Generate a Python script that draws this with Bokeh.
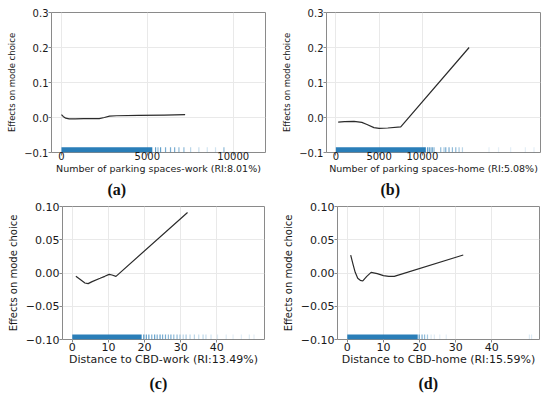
from bokeh.plotting import figure
from bokeh.models import Range1d, FixedTicker, CustomJSTickFormatter, Title, ColumnDataSource
from bokeh.layouts import column, row
from bokeh.embed import file_html
from bokeh.resources import INLINE

# ---------------- data ----------------
# (a) Number of parking spaces-work
a_x = [0, 100, 250, 450, 800, 1300, 1800, 2200, 2500, 2800, 3200, 4500, 6000, 7200]
a_y = [0.008, 0.003, -0.002, -0.004, -0.004, -0.003, -0.003, -0.003, 0.000, 0.004, 0.005, 0.006, 0.007, 0.008]
a_rug_band = [0, 5290]
a_rug_x = [5480, 5620, 5770, 6060, 6350, 6590, 6840, 7130, 7520, 8000, 8490, 8970, 9460]
a_rug_alpha = [0.7, 0.5, 0.7, 0.6, 0.6, 0.6, 0.5, 0.5, 0.3, 0.25, 0.2, 0.2, 0.5]
a_xticks = [0, 5000, 10000]
a_xlabels = ["0", "5000", "10000"]
a_yticks = [-0.1, 0.0, 0.1, 0.2, 0.3]
a_ylabels = ["\u22120.1", "0.0", "0.1", "0.2", "0.3"]
a_xrange = [-580, 11880]
a_yrange = [-0.1, 0.3]
a_xtitle = "Number of parking spaces-work (RI:8.01%)"
a_caption = "(a)"

# (b) Number of parking spaces-home
b_x = [270, 1000, 2100, 3000, 3600, 4400, 5000, 6000, 7500, 15400]
b_y = [-0.013, -0.012, -0.011, -0.014, -0.020, -0.029, -0.031, -0.030, -0.027, 0.200]
b_rug_band = [0, 10400]
b_rug_x = [10600, 10800, 11000, 11170, 11350, 12120, 12500, 12700, 13080, 13470, 13860, 14240, 14630,
           17700, 18800, 20200, 21900, 22900]
b_rug_alpha = [0.7, 0.7, 0.6, 0.6, 0.5, 0.5, 0.4, 0.6, 0.6, 0.5, 0.5, 0.4, 0.3,
               0.12, 0.12, 0.12, 0.12, 0.12]
b_xticks = [0, 5000, 10000]
b_xlabels = ["0", "5000", "10000"]
b_yticks = [-0.1, 0.0, 0.1, 0.2, 0.3]
b_ylabels = ["\u22120.1", "0.0", "0.1", "0.2", "0.3"]
b_xrange = [-1080, 23650]
b_yrange = [-0.1, 0.3]
b_xtitle = "Number of parking spaces-home (RI:5.08%)"
b_caption = "(b)"

# (c) Distance to CBD-work
c_x = [1.0, 2.5, 3.5, 4.4, 5.5, 7.7, 9.0, 10.2, 11.0, 12.1, 31.9]
c_y = [-0.005, -0.011, -0.015, -0.016, -0.013, -0.008, -0.005, -0.002, -0.003, -0.005, 0.091]
c_rug_band = [0, 19.2]
c_rug_x = [19.8, 20.5, 21.2, 22.0, 22.8, 23.5, 24.3, 25.0, 25.8, 26.6, 27.3, 28.1, 29.0, 29.8,
           30.7, 31.5, 32.6, 33.8, 35.0, 36.2, 37.0, 38.4, 40.2, 42.6, 44.5, 46.8, 49.0, 50.3]
c_rug_alpha = [0.8, 0.7, 0.7, 0.6, 0.7, 0.6, 0.7, 0.6, 0.6, 0.5, 0.6, 0.5, 0.5, 0.4,
               0.3, 0.4, 0.3, 0.3, 0.25, 0.3, 0.25, 0.2, 0.15, 0.15, 0.12, 0.12, 0.15, 0.12]
c_xticks = [0, 10, 20, 30, 40]
c_xlabels = ["0", "10", "20", "30", "40"]
c_yticks = [-0.10, -0.05, 0.00, 0.05, 0.10]
c_ylabels = ["\u22120.10", "\u22120.05", "0.00", "0.05", "0.10"]
c_xrange = [-2.7, 53.2]
c_yrange = [-0.1, 0.1]
c_xtitle = "Distance to CBD-work (RI:13.49%)"
c_caption = "(c)"

# (d) Distance to CBD-home
d_x = [0.95, 1.6, 2.2, 2.9, 3.6, 4.3, 5.4, 6.6, 8.3, 10.0, 11.5, 13.0, 32.1]
d_y = [0.027, 0.013, 0.001, -0.008, -0.011, -0.012, -0.005, 0.001, -0.001, -0.004, -0.005, -0.005, 0.027]
d_rug_band = [0, 19.5]
d_rug_x = [19.9, 20.7, 21.4, 22.2, 23.2, 24.1, 25.6, 27.4, 50.4, 51.0]
d_rug_alpha = [0.7, 0.6, 0.5, 0.4, 0.15, 0.15, 0.12, 0.12, 0.15, 0.15]
d_xticks = [0, 10, 20, 30, 40]
d_xlabels = ["0", "10", "20", "30", "40"]
d_yticks = [-0.10, -0.05, 0.00, 0.05, 0.10]
d_ylabels = ["\u22120.10", "\u22120.05", "0.00", "0.05", "0.10"]
d_xrange = [-2.7, 53.2]
d_yrange = [-0.1, 0.1]
d_xtitle = "Distance to CBD-home (RI:15.59%)"
d_caption = "(d)"

Y_TITLE = "Effects on mode choice"

RUG = "#1f77b4"
LINE = "#2b2b2b"
FRAME = "#8a8a8a"
GRID = "#e9e9e9"
FONT = "DejaVu Sans"


def fmt(vals, labels):
    return CustomJSTickFormatter(
        args=dict(vals=vals, labels=labels),
        code="""
        let best = 0, bd = Infinity;
        for (let i = 0; i < vals.length; i++) {
            const d = Math.abs(vals[i] - tick);
            if (d < bd) { bd = d; best = i; }
        }
        return labels[best];
        """)


def panel(xs, ys, band, rug_x, rug_alpha, xticks, xlabels, yticks, ylabels,
          xr, yr, xtitle, caption, geo, sizes, offs):
    w, h, bl, br, bt, bb = geo
    tick_fs, xlab_fs, ylab_fs, cap_fs, cap_off = sizes
    x_lab_so, y_lab_so, x_title_so, cap_so = offs
    p = figure(width=w, height=h, output_backend="svg", toolbar_location=None,
               x_range=Range1d(*xr), y_range=Range1d(*yr),
               min_border_left=bl, min_border_right=br,
               min_border_top=bt, min_border_bottom=bb)
    p.background_fill_color = "white"
    p.border_fill_color = "white"
    p.outline_line_color = FRAME
    p.outline_line_width = 1

    rug_h = (yr[1] - yr[0]) * 0.038
    p.quad(left=[band[0]], right=[band[1]], bottom=[yr[0]], top=[yr[0] + rug_h],
           fill_color=RUG, fill_alpha=0.95, line_color=None)
    src = ColumnDataSource(dict(x=rug_x, a=rug_alpha))
    p.segment(x0="x", y0=yr[0], x1="x", y1=yr[0] + rug_h, source=src,
              line_color=RUG, line_alpha="a", line_width=1.2)
    p.line(xs, ys, line_color=LINE, line_width=1.2)

    for ax, ticks, labels in ((p.xaxis, xticks, xlabels), (p.yaxis, yticks, ylabels)):
        ax.ticker = FixedTicker(ticks=ticks)
        ax.formatter = fmt(ticks, labels)
        ax.axis_line_color = None
        ax.major_tick_line_color = FRAME
        ax.major_tick_out = 3
        ax.major_tick_in = 0
        ax.minor_tick_line_color = None
        ax.major_label_text_font = FONT
        ax.major_label_text_font_size = tick_fs
        ax.major_label_text_color = "#1a1a1a"
        ax.axis_label_text_font = FONT
        ax.axis_label_text_font_style = "normal"
        ax.axis_label_text_color = "#1a1a1a"
    p.xaxis.major_label_standoff = x_lab_so
    p.yaxis.major_label_standoff = 0
    p.xaxis.axis_label = xtitle
    p.yaxis.axis_label = Y_TITLE
    p.xaxis.axis_label_text_font_size = xlab_fs
    p.yaxis.axis_label_text_font_size = ylab_fs
    p.xaxis.axis_label_standoff = x_title_so
    p.yaxis.axis_label_standoff = y_lab_so
    p.grid.grid_line_color = GRID
    p.grid.grid_line_width = 1

    t = Title(text=caption, align="left", offset=cap_off, standoff=cap_so,
              text_font="Liberation Serif", text_font_style="bold",
              text_font_size=cap_fs, text_color="#111111")
    p.add_layout(t, "below")
    return p


fa = panel(a_x, a_y, a_rug_band, a_rug_x, a_rug_alpha, a_xticks, a_xlabels, a_yticks, a_ylabels,
           a_xrange, a_yrange, a_xtitle, a_caption,
           (275, 200, 51, 10, 12, 48), ("10px", "9.5px", "8.5px", "16px", 56), (-4, 4, 0, 4))
fb = panel(b_x, b_y, b_rug_band, b_rug_x, b_rug_alpha, b_xticks, b_xlabels, b_yticks, b_ylabels,
           b_xrange, b_yrange, b_xtitle, b_caption,
           (275, 200, 51, 10, 12, 48), ("10px", "9.5px", "8.5px", "16px", 54), (-4, 4, 0, 4))
fc = panel(c_x, c_y, c_rug_band, c_rug_x, c_rug_alpha, c_xticks, c_xlabels, c_yticks, c_ylabels,
           c_xrange, c_yrange, c_xtitle, c_caption,
           (275, 195, 62, 11, 6, 53), ("11px", "11px", "10px", "16px", 87), (0, 4, -1, 8))
fd = panel(d_x, d_y, d_rug_band, d_rug_x, d_rug_alpha, d_xticks, d_xlabels, d_yticks, d_ylabels,
           d_xrange, d_yrange, d_xtitle, d_caption,
           (275, 195, 62, 11, 6, 53), ("11px", "11px", "10px", "16px", 81), (0, 4, -1, 8))

layout = column(row(fa, fb), row(fc, fd))
open("out.html", "w").write(file_html(layout, INLINE))
